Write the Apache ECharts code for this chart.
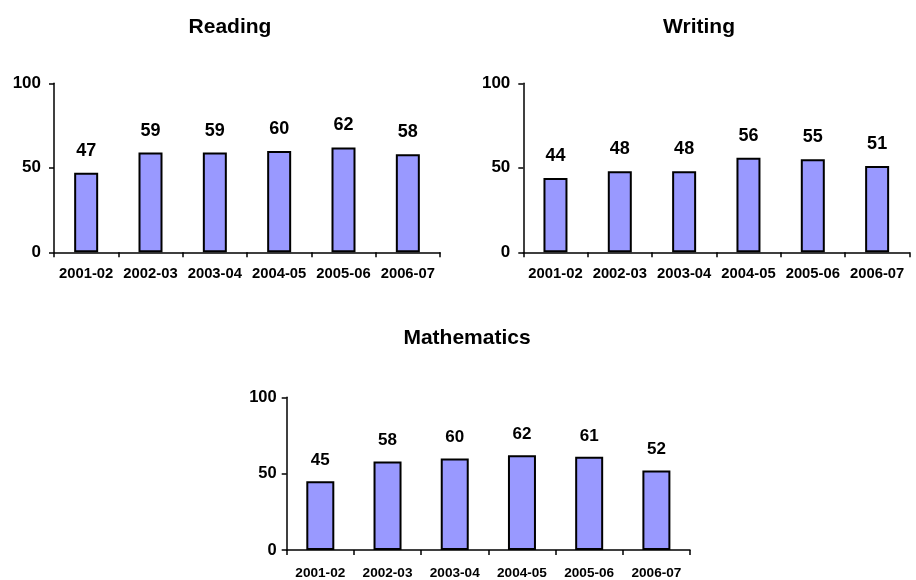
<!DOCTYPE html>
<html>
<head>
<meta charset="utf-8">
<script src="https://cdn.jsdelivr.net/npm/echarts@6/dist/echarts.min.js"></script>
<style>
html,body{margin:0;padding:0;background:#fff;}
#chart{width:916px;height:580px;}
</style>
</head>
<body>
<div id="chart"></div>
<script>
var categories = ['2001-02','2002-03','2003-04','2004-05','2005-06','2006-07'];
var reading = [47, 59, 59, 60, 62, 58];
var writing = [44, 48, 48, 56, 55, 51];
var mathematics = [45, 58, 60, 62, 61, 52];
var panelTitles = ['Reading', 'Writing', 'Mathematics'];
var yTicks = [0, 50, 100];

var FONT = '"Liberation Sans", Arial, Helvetica, sans-serif';
var chart = echarts.init(document.getElementById('chart'));

var grids = [
  {left: 54, top: 83.3, width: 386, height: 169},
  {left: 523.3, top: 83.3, width: 386, height: 169},
  {left: 286.7, top: 397.3, width: 403.3, height: 156.7}
];
var fs = [
  {tick: 17, val: 18, cat: 14.8, bw: 24, dist: 13, ymargin: 13, xmargin: 14},
  {tick: 17, val: 18, cat: 14.8, bw: 24, dist: 13, ymargin: 13, xmargin: 14},
  {tick: 16.5, val: 17, cat: 13.6, bw: 28, dist: 12.5, ymargin: 10, xmargin: 16}
];
var datas = [reading, writing, mathematics];

var xAxes = [], yAxes = [], series = [];
for (var i = 0; i < 3; i++) {
  xAxes.push({
    type: 'category', gridIndex: i, data: categories, boundaryGap: true,
    axisLine: {lineStyle: {color: '#000', width: 1.5}},
    axisTick: {show: true, length: 5, inside: false, alignWithLabel: false, lineStyle: {color: '#000', width: 1.5}},
    axisLabel: {color: '#000', fontWeight: 'bold', fontSize: fs[i].cat, fontFamily: FONT, margin: fs[i].xmargin, interval: 0}
  });
  yAxes.push({
    type: 'value', gridIndex: i, min: yTicks[0], max: yTicks[2], interval: yTicks[1] - yTicks[0],
    splitLine: {show: false},
    axisLine: {show: true, lineStyle: {color: '#000', width: 1.5}},
    axisTick: {show: true, length: 5, lineStyle: {color: '#000', width: 1.5}},
    axisLabel: {color: '#000', fontWeight: 'bold', fontSize: fs[i].tick, fontFamily: FONT, margin: fs[i].ymargin}
  });
  series.push({
    type: 'bar', xAxisIndex: i, yAxisIndex: i, data: datas[i], barWidth: fs[i].bw,
    itemStyle: {color: '#9999FF', borderColor: '#000', borderWidth: 2},
    label: {show: true, position: 'top', distance: fs[i].dist, color: '#000', fontWeight: 'bold', fontSize: fs[i].val, fontFamily: FONT},
    animation: false
  });
}

var titlePos = [[225, 12], [694, 12], [462, 323]];
var titles = panelTitles.map(function (t, i) {
  return {
    text: t, left: titlePos[i][0], top: titlePos[i][1], textAlign: 'center',
    textStyle: {color: '#000', fontWeight: 'bold', fontSize: 21, fontFamily: FONT}
  };
});

chart.setOption({
  animation: false,
  backgroundColor: '#fff',
  title: titles,
  grid: grids,
  xAxis: xAxes,
  yAxis: yAxes,
  series: series
});
</script>
</body>
</html>
